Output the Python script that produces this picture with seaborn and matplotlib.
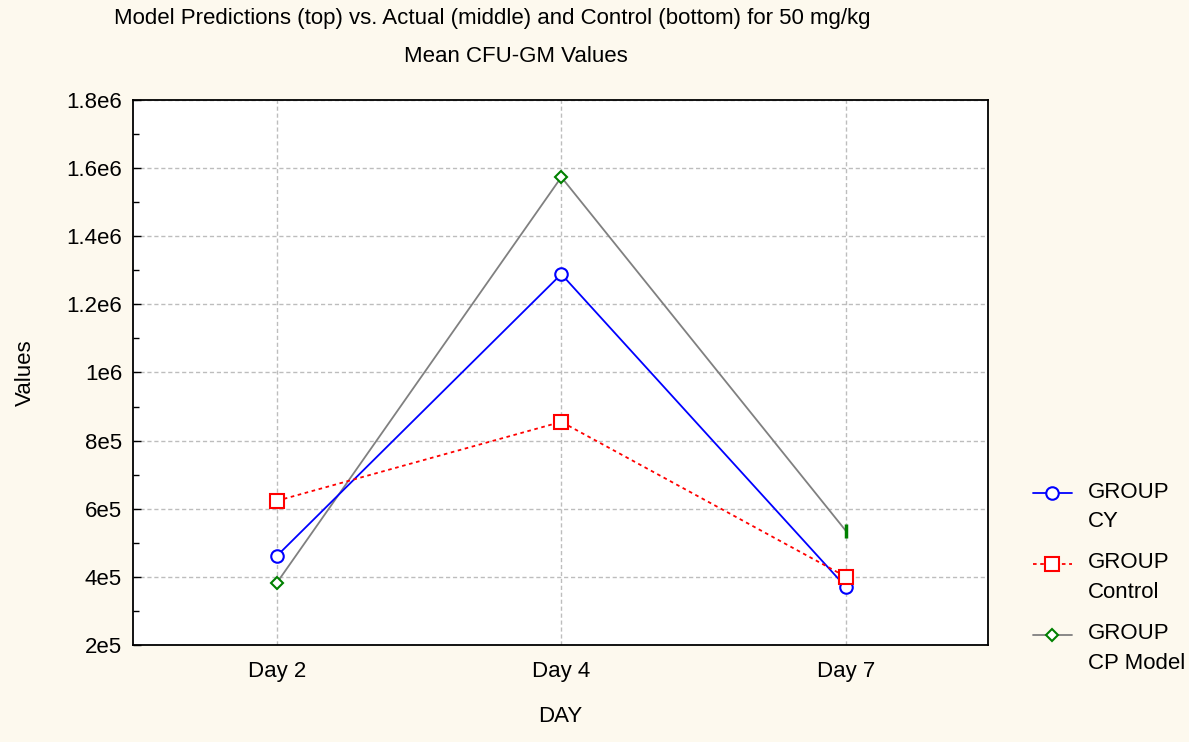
import matplotlib
matplotlib.use("Agg")
import matplotlib.pyplot as plt
import seaborn as sns
import pandas as pd
import numpy as np
from matplotlib.ticker import MultipleLocator, FixedLocator
from matplotlib.legend_handler import HandlerLine2D

days = ["Day 2", "Day 4", "Day 7"]
cy = [4.61e5, 1.289e6, 3.70e5]
control = [6.23e5, 8.55e5, 4.00e5]
cp_model = [3.82e5, 1.574e6, 5.35e5]
ytick_labels = ["2e5", "4e5", "6e5", "8e5", "1e6", "1.2e6", "1.4e6", "1.6e6", "1.8e6"]

sns.set_style("white")
plt.rcParams['font.family'] = ['Liberation Sans', 'DejaVu Sans']
plt.rcParams['font.size'] = 16
plt.rcParams['text.color'] = 'black'
plt.rcParams['axes.labelcolor'] = 'black'
plt.rcParams['xtick.color'] = 'black'
plt.rcParams['ytick.color'] = 'black'

bg = "#FDF9EE"
fig = plt.figure(figsize=(11.89, 7.42), dpi=100, facecolor=bg)
ax = fig.add_axes([0.112, 0.131, 0.719, 0.734])
ax.set_facecolor("white")

x = np.arange(len(days))
df_cy = pd.DataFrame({"x": x, "v": cy})
df_ct = pd.DataFrame({"x": x, "v": control})
df_cp = pd.DataFrame({"x": x, "v": cp_model})

sns.lineplot(data=df_cy, x="x", y="v", ax=ax, color="#0000FF", lw=1.3,
             marker="o", markersize=9, markerfacecolor="white",
             markeredgecolor="#0000FF", markeredgewidth=1.5,
             label="GROUP\nCY", zorder=3)
sns.lineplot(data=df_ct, x="x", y="v", ax=ax, color="#FF0000", lw=1.3,
             linestyle=(0, (2, 2)),
             marker="s", markersize=10, markerfacecolor="white",
             markeredgecolor="#FF0000", markeredgewidth=1.5,
             label="GROUP\nControl", zorder=4)
sns.lineplot(data=df_cp, x="x", y="v", ax=ax, color="#808080", lw=1.3,
             marker="D", markersize=6.5, markerfacecolor="white",
             markeredgecolor="#008000", markeredgewidth=1.5,
             markevery=[0, 1],
             label="GROUP\nCP Model", zorder=2)
ax.plot([x[2]], [cp_model[2]], marker="|", markersize=10, markeredgewidth=2.5,
        color="#008000", linestyle="none", zorder=5)

ax.set_xlim(-0.505, 2.5)
ax.set_ylim(2e5, 1.8e6)
ax.set_xticks(x)
ax.set_xticklabels(days)
ax.yaxis.set_major_locator(FixedLocator(np.arange(2e5, 1.8e6 + 1, 2e5)))
ax.set_yticklabels(ytick_labels)
ax.yaxis.set_minor_locator(MultipleLocator(1e5))
ax.tick_params(axis="y", which="major", direction="in", length=6, width=1, left=True, labelsize=16, pad=8)
ax.tick_params(axis="y", which="minor", direction="in", length=4, width=1, left=True)
ax.tick_params(axis="x", which="major", direction="in", length=0, labelsize=16, pad=12)

ax.grid(True, which="major", color="#BDBDBD", linestyle=(0, (3, 2)), lw=1)
for s in ax.spines.values():
    s.set_visible(True)
    s.set_color("black")
    s.set_linewidth(1.3)

ax.set_xlabel("DAY", fontsize=16, labelpad=17)
ax.set_ylabel("Values", fontsize=16, labelpad=22)

fig.text(0.414, 0.975, "Model Predictions (top) vs. Actual (middle) and Control (bottom) for 50 mg/kg",
         ha="center", va="center", fontsize=16)
fig.text(0.434, 0.924, "Mean CFU-GM Values", ha="center", va="center", fontsize=16)


class UpHandler(HandlerLine2D):
    def create_artists(self, legend, orig_handle, xdescent, ydescent, width, height, fontsize, trans):
        arts = super().create_artists(legend, orig_handle, xdescent, ydescent, width, height, fontsize, trans)
        for a in arts:
            a.set_ydata(np.asarray(a.get_ydata(), dtype=float) + 0.62 * fontsize)
        return arts


handles, labels = ax.get_legend_handles_labels()
leg = ax.legend(handles, labels, loc="upper left", bbox_to_anchor=(0.861, 0.363),
                bbox_transform=fig.transFigure,
                frameon=False, fontsize=16, handlelength=1.75, labelspacing=0.9,
                handletextpad=0.72, borderaxespad=0,
                handler_map={h: UpHandler() for h in handles})
for t in leg.get_texts():
    t.set_linespacing(1.55)

fig.savefig("out.png", dpi=100, facecolor=bg)
